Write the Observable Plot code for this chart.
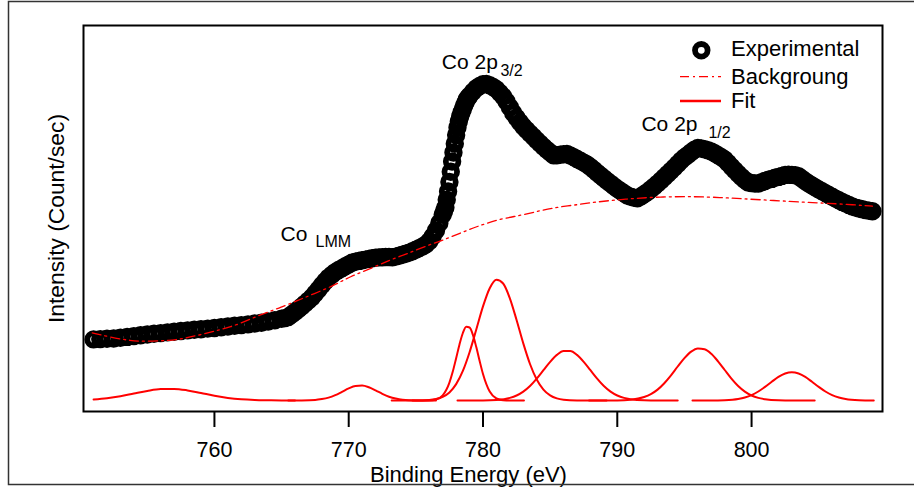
<!DOCTYPE html>
<html><head><meta charset="utf-8">
<script src="https://cdn.jsdelivr.net/npm/d3@7"></script>
<script src="https://cdn.jsdelivr.net/npm/@observablehq/plot@0.6"></script>
<style>body{margin:0;background:#fff} svg{display:block}</style>
</head><body><div id="chart"></div>
<script>
// ---------- DATA ----------
const xTicks = [760, 770, 780, 790, 800];
const xLabel = "Binding Energy (eV)";
const yLabel = "Intensity (Count/sec)";
const legendLabels = ["Experimental", "Backgroung", "Fit"];

// Experimental counts, in segments (start eV, step eV)
const expA = [721,724,727,730,738,746,754,762,770,777,784,791,798,805,811,817,823,829,835,843,850,857,864,871,880,888,900,913,927]; // 751 .. 765 step 0.5
const expB = [934,945,970,996,1022,1050,1079,1109,1141,1180,1220,1262,1303,1339,1367,1394,1415,1433,1452,1470,1487,1497,1506,1513,1519,1526,1532,1537,1541,1543,1545,1545,1543,1549,1558,1568,1578,1589,1602,1618,1634,1651,1670,1703,1750,1810,1885,1968]; // 765.25 .. 777 step 0.25
const expC = [2005,2040,2118,2200,2295,2397,2500,2590,2678,2766,2840,2900,2950,2990,3025,3060,3090,3122,3140]; // 777.1 .. 778.9 step 0.1
const expD = [3157,3197,3232,3255,3273,3275,3262,3246,3222,3187,3150,3100,3043,2985,2937,2893,2850,2815,2780,2747,2713,2680,2647,2618,2590,2562,2562,2567,2572,2575,2560,2544,2526,2508,2489,2471,2445,2417,2388,2360,2333,2306,2279,2252,2228,2205,2182,2160,2148,2138,2133,2150,2172,2195,2222,2250,2279,2310,2342,2375,2407,2440,2475,2510,2541,2566,2592,2617,2636,2630,2622,2612,2600,2583,2563,2543,2520,2485,2448,2413,2378,2345,2315,2290,2285,2280,2280,2293,2305,2317,2326,2337,2346,2356,2366,2369,2366,2362,2352,2327,2302,2280,2260,2241,2221,2202,2184,2166,2148,2129,2112,2096,2081,2066,2050,2039,2030,2022,2014,2008,2003]; // 779 .. 809 step 0.25

// Background [eV, counts]
const background = [[750.9,787],[752.25,743],[753.75,707],[755.0,700],[756.6,710],[757.7,727],[759.2,777],[760.45,817],[761.9,877],[763.4,967],[764.8,1033],[766.2,1110],[767.4,1177],[768.9,1260],[770.1,1350],[771.6,1427],[773.1,1517],[774.35,1577],[775.85,1660],[777.1,1717],[778.45,1792],[779.6,1853],[781.3,1927],[782.8,1960],[784.3,2010],[785.5,2043],[787.0,2067],[788.25,2093],[790.75,2127],[793.2,2147],[795.7,2150],[797.7,2140],[799.2,2128],[801.7,2110],[803.9,2093],[805.6,2083],[807.6,2067],[809.0,2053]];

// Fit components [eV, counts]
const fit1 = [[751,120],[752,133],[753,153],[754,180],[755,206],[756,224],[757,226],[758,211],[759,185],[760,158],[761,136],[762,122],[763,115],[764,112],[765,110],[766,110]];
const fit2 = [[765.5,110],[766.5,111],[767.5,115],[768,124],[768.5,139],[769,164],[769.5,197],[770,231],[770.5,255],[771,259],[771.5,242],[772,211],[772.5,177],[773,148],[773.5,129],[774,118],[775,111],[776,110],[776.5,110]];
const fit3 = [[774.75,110],[775.5,110],[776,111],[776.5,120],[777,161],[777.5,289],[777.75,399],[778,533],[778.25,671],[778.5,785],[778.75,847],[779,840],[779.25,766],[779.5,644],[779.75,505],[780,375],[780.5,199],[781,130],[781.5,113],[782,110],[783.05,110]];
const fit4 = [[773.2,110],[775,110],[776,115],[776.5,125],[777,147],[777.5,191],[778,274],[778.5,406],[779,593],[779.5,820],[780,1051],[780.5,1233],[781,1318],[781.5,1280],[782,1132],[782.5,915],[783,681],[783.5,475],[784,320],[784.5,219],[785,161],[785.5,131],[786,118],[787,111],[788,110],[789.2,110]];
const fit5 = [[778.1,110],[780,111],[781,116],[782,136],[782.5,160],[783,199],[783.5,255],[784,329],[784.5,413],[785,497],[785.5,566],[786,605],[786.5,605],[787,566],[787.5,497],[788,413],[788.5,329],[789,255],[789.5,199],[790,160],[790.5,136],[791,123],[792,112],[793,110],[794.5,110]];
const fit6 = [[787.9,110],[790,111],[791,118],[792,145],[792.5,174],[793,219],[793.5,283],[794,362],[794.5,450],[795,534],[795.5,599],[796,631],[796.5,623],[797,577],[797.5,502],[798,415],[798.5,329],[799,255],[799.5,199],[800,160],[800.5,136],[801,123],[802,112],[803,110],[804.7,110]];
const fit7 = [[795.6,110],[797,110],[798,113],[799,125],[799.5,140],[800,164],[800.5,200],[801,246],[801.5,297],[802,346],[802.5,380],[803,393],[803.5,380],[804,346],[804.5,297],[805,246],[805.5,200],[806,164],[806.5,140],[807,125],[808,113],[809.1,110]];

// ---------- BUILD ----------
const FONT = "'Liberation Sans', Arial, Helvetica, sans-serif";
function seg(start, step, counts) {
  return counts.map((c, i) => ({energy: +(start + i * step).toFixed(2), counts: c}));
}
const experimental = [
  ...seg(751, 0.5, expA),
  ...seg(765.25, 0.25, expB),
  ...seg(777.1, 0.1, expC),
  ...seg(779, 0.25, expD)
];
const fits = [fit1, fit2, fit3, fit4, fit5, fit6, fit7];
const RED = "#ff0000";
const DOT_R = 6.3, DOT_SW = 5.8;

function label(txt, x, y, size) {
  return Plot.text([txt], {x: [x], y: [y], text: d => d, textAnchor: "start", lineAnchor: "bottom", fontSize: size, fill: "black"});
}

const plot = Plot.plot({
  width: 914, height: 488,
  marginLeft: 83, marginRight: 32, marginTop: 25, marginBottom: 77,
  x: {domain: [750.25, 809.75]},
  y: {domain: [0, 3860], axis: null},
  style: {fontFamily: FONT, background: "white", color: "black", overflow: "visible"},
  marks: [
    ...fits.map(f => Plot.line(f, {x: d => d[0], y: d => d[1], stroke: RED, strokeWidth: 2, curve: "monotone-x"})),
    Plot.dot(experimental, {x: "energy", y: "counts", r: DOT_R, stroke: "black", strokeWidth: DOT_SW, fill: "none"}),
    Plot.line(background, {x: d => d[0], y: d => d[1], stroke: RED, strokeWidth: 1.3, strokeDasharray: "9,4,2,4", curve: "basis"}),
    Plot.frame({stroke: "black", strokeWidth: 2}),
    Plot.axisX({ticks: xTicks, tickSize: 16, tickPadding: 14.5, fontSize: 21.5, strokeWidth: 2, label: null, tickFormat: d => String(d)}),
    Plot.text([xLabel], {text: d => d, frameAnchor: "bottom", textAnchor: "middle", dx: -14.5, dy: 63, lineAnchor: "middle", fontSize: 22}),
    Plot.text([yLabel], {text: d => d, frameAnchor: "left", textAnchor: "middle", rotate: -90, dx: -26.5, lineAnchor: "middle", fontSize: 22.8}),
    label("Co 2p", 776.93, 3430, 21),
    label("3/2", 781.30, 3360, 16),
    label("Co 2p", 791.80, 2810, 21),
    label("1/2", 796.79, 2740, 16),
    label("Co", 764.92, 1710, 21),
    label("LMM", 767.53, 1643, 16)
  ]
});

const svg = d3.select(plot);
// outer border
svg.insert("rect", ":first-child").attr("x", 0).attr("y", 0).attr("width", 914).attr("height", 488).attr("fill", "white");
svg.append("rect").attr("x", 8.5).attr("y", 1.5).attr("width", 920).attr("height", 483)
  .attr("fill", "none").attr("stroke", "#333").attr("stroke-width", 1.5);

// legend
const lg = svg.append("g").attr("font-family", FONT).attr("font-size", 22).attr("fill", "black").attr("text-anchor", "start");
lg.append("circle").attr("cx", 701.3).attr("cy", 50.3).attr("r", DOT_R).attr("fill", "none").attr("stroke", "black").attr("stroke-width", DOT_SW);
lg.append("line").attr("x1", 680).attr("x2", 721).attr("y1", 76.7).attr("y2", 76.7).attr("stroke", RED).attr("stroke-width", 1.3).attr("stroke-dasharray", "9,4,2,4");
lg.append("line").attr("x1", 680).attr("x2", 721).attr("y1", 101).attr("y2", 101).attr("stroke", RED).attr("stroke-width", 2.5);
[56, 84, 108.3].forEach((y, i) => {
  lg.append("text").attr("x", 731).attr("y", y).attr("text-anchor", "start").text(legendLabels[i]);
});

document.getElementById("chart").appendChild(plot);
</script></body></html>
